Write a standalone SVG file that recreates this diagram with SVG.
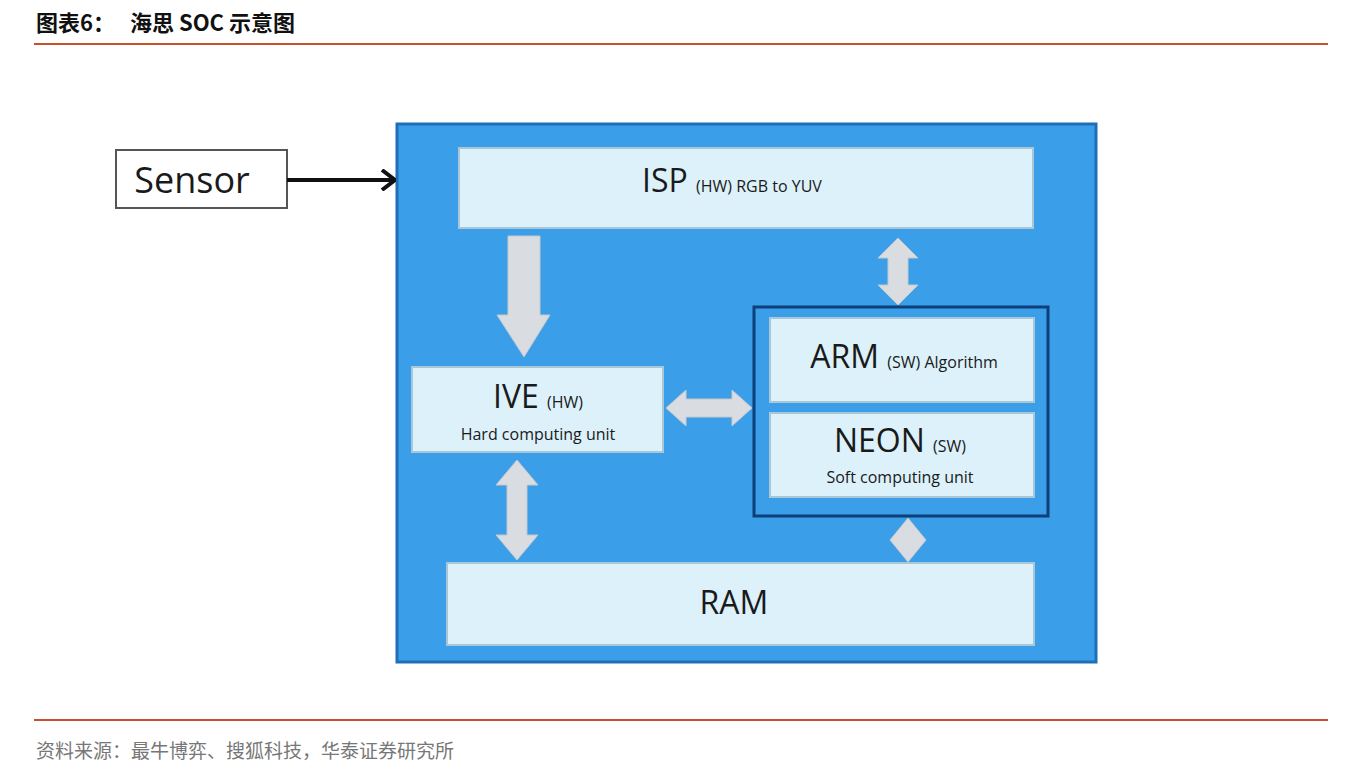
<svg xmlns="http://www.w3.org/2000/svg" width="1356" height="784" viewBox="0 0 1356 784">
<style>
.t{font-family:"Noto Sans CJK SC","Liberation Sans",sans-serif}
.c{font-family:"Open Sans","Liberation Sans",sans-serif;fill:#1a1a1a}
.box{fill:#dcf1fa;stroke:#a9c7d6;stroke-width:2}
.arr{fill:#d9dde2;stroke:#c4c8cc;stroke-width:1}
</style>
<defs><marker id="ah" markerWidth="16" markerHeight="22" refX="14" refY="11" orient="auto" markerUnits="userSpaceOnUse"><path d="M2,1 L15,11 L2,21" fill="none" stroke="#111" stroke-width="4"/></marker></defs>
<rect width="1356" height="784" fill="#fff"/>
<text class="t" x="36" y="31" font-size="22" font-weight="bold" fill="#111" xml:space="preserve">图表6：   海思 SOC 示意图</text>
<line x1="34" y1="44" x2="1328" y2="44" stroke="#c9502c" stroke-width="2"/>
<line x1="34" y1="720" x2="1328" y2="720" stroke="#c9502c" stroke-width="2"/>
<text class="t" x="36" y="758" font-size="19" fill="#777">资料来源：最牛博弈、搜狐科技，华泰证券研究所</text>
<g id="soc"><rect x="397" y="124" width="699" height="538" fill="#3a9ee8" stroke="#1f6fb8" stroke-width="3"/></g>
<g id="sensor"><rect x="116" y="150" width="171" height="58" fill="#fff" stroke="#555" stroke-width="2"/><text class="c" x="192" y="193" font-size="36" text-anchor="middle">Sensor</text></g>
<g id="group"><rect x="754" y="307" width="294" height="209" fill="none" stroke="#0d3f78" stroke-width="3"/></g>
<g id="isp"><rect class="box" x="459" y="148" width="574" height="80"/><text class="c" x="642" y="192" font-size="32">ISP <tspan font-size="16">(HW) RGB to YUV</tspan></text></g>
<g id="ive"><rect class="box" x="412" y="367" width="251" height="85"/><text class="c" x="538" y="408" font-size="32" text-anchor="middle">IVE <tspan font-size="16">(HW)</tspan></text><text class="c" x="538" y="440" font-size="16" text-anchor="middle">Hard computing unit</text></g>
<g id="arm"><rect class="box" x="770" y="318" width="264" height="84"/><text class="c" x="904" y="368" font-size="32" text-anchor="middle">ARM <tspan font-size="16">(SW) Algorithm</tspan></text></g>
<g id="neon"><rect class="box" x="770" y="413" width="264" height="84"/><text class="c" x="900" y="452" font-size="32" text-anchor="middle">NEON <tspan font-size="16">(SW)</tspan></text><text class="c" x="900" y="483" font-size="16" text-anchor="middle">Soft computing unit</text></g>
<g id="ram"><rect class="box" x="447" y="563" width="587" height="82"/><text class="c" x="734" y="614" font-size="32" text-anchor="middle">RAM</text></g>
<g id="connectors">
<line x1="287" y1="180" x2="394" y2="180" stroke="#111" stroke-width="4" marker-end="url(#ah)"/>
<path class="arr" d="M508,236 H540 V315 H550 L524,357 L497,315 H508 Z"/>
<path class="arr" d="M666,408 L686,390 V399 H732 V390 L752,408 L732,426 V417 H686 V426 Z"/>
<path class="arr" d="M898,238 L918,258 H908 V285 H918 L898,305 L878,285 H888 V258 H878 Z"/>
<path class="arr" d="M517,460 L538,485 H527 V535 H538 L517,560 L496,535 H507 V485 H496 Z"/>
<path class="arr" d="M908,518 L926,540 L908,562 L890,540 Z"/>
</g>
</svg>
